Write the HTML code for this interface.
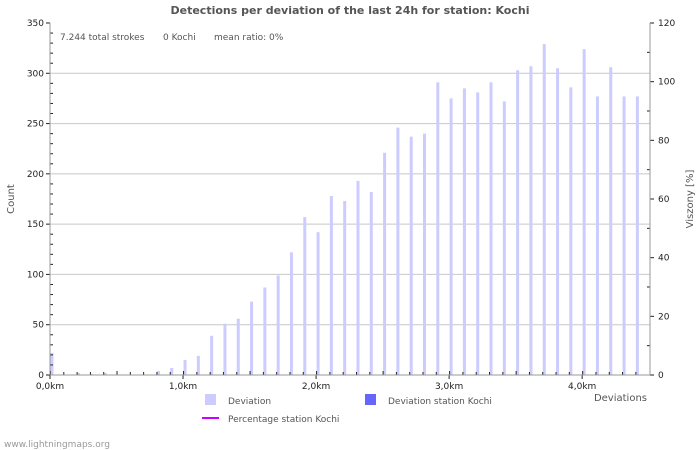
<!DOCTYPE html>
<html><head><meta charset="utf-8"><style>
body{margin:0;background:#fff;}
svg{display:block;font-family:"DejaVu Sans","Liberation Sans",sans-serif;}
</style></head><body>
<svg id="chart" width="700" height="450" viewBox="0 0 700 450">
<text x="350" y="14" text-anchor="middle" font-size="11" font-weight="bold" fill="#555">Detections per deviation of the last 24h for station: Kochi</text>
<g id="grid"></g>
<g id="bars"></g>
<g id="axes"></g>
<text x="60" y="40" font-size="9" fill="#555">7.244 total strokes</text>
<text x="163" y="40" font-size="9" fill="#555">0 Kochi</text>
<text x="214" y="40" font-size="9" fill="#555">mean ratio: 0%</text>
<text transform="translate(14,199) rotate(-90)" text-anchor="middle" font-size="10" fill="#555">Count</text>
<text transform="translate(693,199) rotate(-90)" text-anchor="middle" font-size="10" fill="#555">Viszony [%]</text>
<text x="647" y="401" text-anchor="end" font-size="10" fill="#555">Deviations</text>
<g>
<rect x="205" y="394" width="11" height="11" fill="#ccccff"/>
<text x="228" y="404" font-size="9" fill="#555">Deviation</text>
<rect x="365" y="394" width="11" height="11" fill="#6666ff"/>
<text x="388" y="404" font-size="9" fill="#555">Deviation station Kochi</text>
<line x1="202" y1="418" x2="219" y2="418" stroke="#cc00ff" stroke-width="2"/>
<text x="228" y="422" font-size="9" fill="#555">Percentage station Kochi</text>
</g>
<text x="4" y="447" font-size="9" fill="#999">www.lightningmaps.org</text>
</svg>
<script>
const deviationKm = [0,0.1,0.2,0.3,0.4,0.5,0.6,0.7,0.8,0.9,1.0,1.1,1.2,1.3,1.4,1.5,1.6,1.7,1.8,1.9,2.0,2.1,2.2,2.3,2.4,2.5,2.6,2.7,2.8,2.9,3.0,3.1,3.2,3.3,3.4,3.5,3.6,3.7,3.8,3.9,4.0,4.1,4.2,4.3,4.4];
const deviationCounts = [22,0,2,1,2,0,0,0,4,7,15,19,39,51,56,73,87,99,122,157,142,178,173,193,182,221,246,237,240,291,275,285,281,291,272,303,307,329,305,286,324,277,306,277,277];
const stationCounts = [0,0,0,0,0,0,0,0,0,0,0,0,0,0,0,0,0,0,0,0,0,0,0,0,0,0,0,0,0,0,0,0,0,0,0,0,0,0,0,0,0,0,0,0,0];
const yTicks = [0,50,100,150,200,250,300,350];
const y2Ticks = [0,20,40,60,80,100,120];
const xTicks = [0,1,2,3,4];
const xTickLabels = ["0,0km","1,0km","2,0km","3,0km","4,0km"];

const NS="http://www.w3.org/2000/svg";
const X0=50,X1=650,Y0=375,Y1=23,XMAX=4.51,YMAX=350,Y2MAX=120;
const xs=v=>X0+v/XMAX*(X1-X0);
const ys=v=>Y0-v/YMAX*(Y0-Y1);
const y2s=v=>Y0-v/Y2MAX*(Y0-Y1);
function mk(t,a,p){const e=document.createElementNS(NS,t);for(const k in a)e.setAttribute(k,a[k]);p.appendChild(e);return e;}
const grid=document.getElementById('grid'),bars=document.getElementById('bars'),axes=document.getElementById('axes');
yTicks.forEach(v=>{
  if(v>0&&v<YMAX){const l=mk('line',{x1:X0,x2:X1,y1:ys(v),y2:ys(v),stroke:'#c8c8c8','stroke-width':1},grid);
  
  }
  const t=mk('text',{x:X0-6,y:ys(v)+3,'text-anchor':'end','font-size':9,fill:'#222'},axes);t.textContent=v;
  
  
  mk('line',{x1:X0-4,x2:X0,y1:ys(v),y2:ys(v),stroke:'#222'},axes);
  if(v<YMAX){for(let k=1;k<5;k++){mk('line',{x1:X0,x2:X0+3,y1:ys(v+k*10),y2:ys(v+k*10),stroke:'#222'},axes);}}
});
y2Ticks.forEach(v=>{
  mk('line',{x1:X1,x2:X1+4,y1:y2s(v),y2:y2s(v),stroke:'#222'},axes);
  if(v<Y2MAX)mk('line',{x1:X1-3,x2:X1,y1:y2s(v+10),y2:y2s(v+10),stroke:'#222'},axes);
  const t=mk('text',{x:X1+8,y:y2s(v)+3,'font-size':9,fill:'#222'},axes);t.textContent=v;
  
  
});
deviationKm.forEach((d,i)=>{
  const cx=xs(d)+2;
  const b=mk('rect',{x:cx-1.5,y:ys(deviationCounts[i]),width:3,height:Y0-ys(deviationCounts[i]),fill:'#ccccff'},bars);
  
  
  if(stationCounts[i]>0){const s=mk('rect',{x:cx-1.5,y:ys(stationCounts[i]),width:3,height:Y0-ys(stationCounts[i]),fill:'#6666ff'},bars);
  
  }
  mk('line',{x1:xs(d)+0.5,x2:xs(d)+0.5,y1:Y0,y2:Y0-(i%5==0?4:3),stroke:'#222'},axes);
});
xTicks.forEach((v,i)=>{
  mk('line',{x1:xs(v),x2:xs(v),y1:Y0,y2:Y0+4,stroke:'#222'},axes);
  const t=mk('text',{x:xs(v),y:Y0+14,'text-anchor':'middle','font-size':9,fill:'#222'},axes);t.textContent=xTickLabels[i];
  
  
});
mk('line',{x1:X0,x2:X0,y1:Y1,y2:Y0,stroke:'#999'},axes);
mk('line',{x1:X1,x2:X1,y1:Y1,y2:Y0,stroke:'#999'},axes);
mk('line',{x1:X0,x2:X1,y1:Y0,y2:Y0,stroke:'#999'},axes);
</script>
</body></html>
